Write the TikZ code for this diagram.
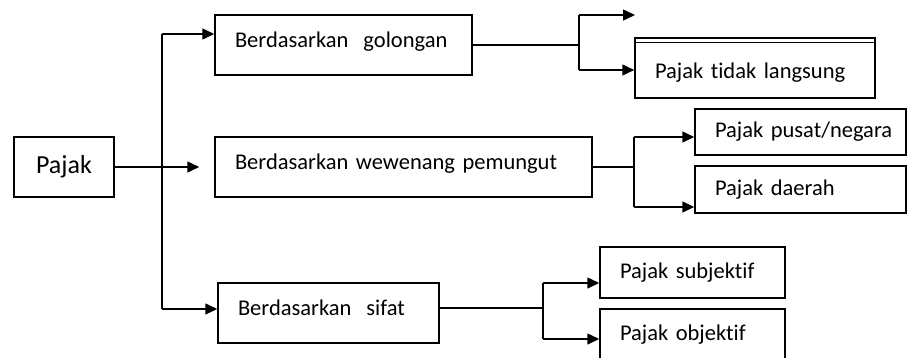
\documentclass[tikz,border=0pt]{standalone}
\usepackage{fontspec}
\setmainfont{Carlito}[Ligatures=NoCommon]
\usepackage{tikz}
\usetikzlibrary{arrows.meta,positioning}

\begin{document}
\begin{tikzpicture}[
    x = 1pt, y = -1pt, % one unit per pixel, y going down
    >= {Triangle[length=12pt,width=11pt]}, % arrow head style
    line width = 1.5pt, % line style
    font = \fontsize{22.5}{26}\selectfont
    ]

    \tikzset{
    box/.style = {draw = black, line width = 1.5pt, rectangle,
        inner xsep = 20pt, inner ysep = 0pt, align = left},
    raised/.style = {text depth = 10pt},
    }

    \useasboundingbox (0,0) rectangle (908,357);
    \clip (0,0) rectangle (908,357);

    % main node
    \node[box, minimum width = 100pt, minimum height = 60pt, inner xsep = 0pt,
        font = \fontsize{26}{30}\selectfont] (pajak) at (64,167) {Pajak};

    % first level
    \node[box, raised, minimum height = 60pt, text width = 217pt] (golongan) at (343.5,45) {Berdasarkan~ golongan};
    \node[box, raised, minimum height = 60pt, text width = 337pt] (wewenang) at (403.5,167) {Berdasarkan wewenang pemungut};
    \node[box, raised, minimum height = 60pt, text width = 181pt] (sifat) at (328.5,313) {Berdasarkan~ sifat};

    % second level
    \node[box, minimum height = 60pt, text width = 200pt, text height = 24pt] (tidak) at (755,68) {Pajak tidak langsung};
    \node[box, minimum height = 46pt, text width = 171pt] (pusat) at (800.5,132) {\mbox{Pajak pusat/negara}};
    \node[box, minimum height = 47pt, text width = 171pt] (daerah) at (800.5,189.5) {Pajak daerah};
    \node[box, minimum height = 51pt, text width = 145pt] (subjektif) at (692.5,272.5) {Pajak subjektif};
    \node[box, minimum height = 51pt, text width = 145pt] (objektif) at (692.5,334.5) {Pajak objektif};
    \draw (tidak.north west) ++(0,5) -- ++(240,0);

    % branch points
    \coordinate (ttop) at (162,34);
    \coordinate (tbot) at (162,309);
    \coordinate (g) at (579,45);
    \coordinate (gtop) at (579,15);
    \coordinate (gbot) at (579,70);
    \coordinate (gend) at (635,15);
    \coordinate (w) at (634,167);
    \coordinate (wtop) at (634,137);
    \coordinate (wbot) at (634,207);
    \coordinate (s) at (543,308);
    \coordinate (stop) at (543,283);
    \coordinate (sbot) at (543,339);

    \draw[->, shorten > = 15pt] (pajak) -- (wewenang);
    \draw (ttop) -- (tbot);
    \draw[->] (ttop) -- (ttop -| golongan.west);
    \draw[->] (tbot) -- (tbot -| sifat.west);

    \draw (golongan) -- (g);
    \draw (gtop) -- (gbot);
    \draw[->] (gtop) -- (gend);
    \draw[->] (gbot) -- (gbot -| tidak.west);

    \draw (wewenang) -- (w);
    \draw (wtop) -- (wbot);
    \draw[->] (wtop) -- (wtop -| pusat.west);
    \draw[->] (wbot) -- (wbot -| daerah.west);

    \draw (s -| sifat.east) -- (s);
    \draw (stop) -- (sbot);
    \draw[->] (stop) -- (stop -| subjektif.west);
    \draw[->] (sbot) -- (sbot -| objektif.west);
\end{tikzpicture}
\end{document}
